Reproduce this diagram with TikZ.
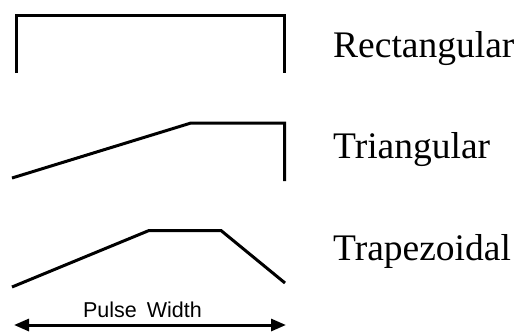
\documentclass[tikz,border=0pt]{standalone}
\usepackage{fontspec}
\setmainfont{Liberation Serif}
\newfontfamily\pwfont{Liberation Sans}
\usetikzlibrary{arrows.meta}
\begin{document}
\begin{tikzpicture}[x=1pt,y=-1pt,
  wave/.style={line width=3pt,line join=miter,line cap=butt},
  lbl/.style={anchor=base west,inner sep=0pt,font=\fontsize{37.5}{40}\selectfont},
  dim/.style={line width=3pt,{Triangle[length=15pt,width=12pt]}-{Triangle[length=15pt,width=12pt]}}]
\useasboundingbox (0,0) rectangle (517,333);
% Rectangular
\coordinate (r1) at (16.5,73);
\coordinate (r2) at (16.5,15.5);
\coordinate (r3) at (284.5,15.5);
\coordinate (r4) at (284.5,73);
\draw[wave] (r1) -- (r2) -- (r3) -- (r4);
% Triangular
\coordinate (t1) at (12,178);
\coordinate (t2) at (191,123);
\coordinate (t3) at (284.5,123);
\coordinate (t4) at (284.5,181);
\draw[wave] (t1) -- (t2) -- (t3) -- (t4);
% Trapezoidal
\coordinate (z1) at (12,287);
\coordinate (z2) at (149,230.5);
\coordinate (z3) at (221,230.5);
\coordinate (z4) at (285,283);
\draw[wave] (z1) -- (z2) -- (z3) -- (z4);
% labels
\node[lbl] (lr) at (333,57) {Rectangular};
\node[lbl] (lt) at (333,158) {Triangular};
\node[lbl] (lz) at (333,260) {Trapezoidal};
% pulse width
\coordinate (a1) at (14,325);
\coordinate (a2) at (286,325);
\draw[dim] (a1) -- (a2);
\node[anchor=base,inner sep=0pt,font=\pwfont\fontsize{21.5}{23}\selectfont] (pw) at (142.5,317) {Pulse\hspace{4pt} Width};
\end{tikzpicture}
\end{document}
